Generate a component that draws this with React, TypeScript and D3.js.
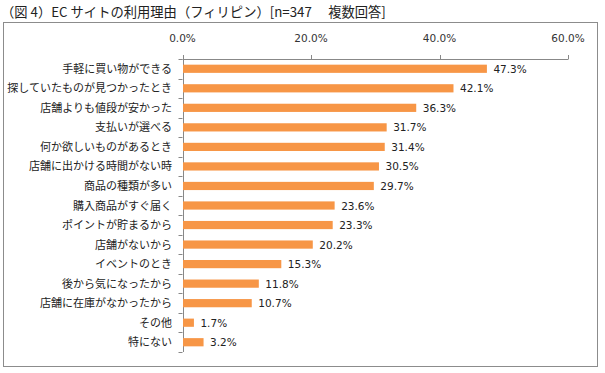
import React from "react";
import * as d3 from "d3";

const categories = [
  "手軽に買い物ができる",
  "探していたものが見つかったとき",
  "店舗よりも値段が安かった",
  "支払いが選べる",
  "何か欲しいものがあるとき",
  "店舗に出かける時間がない時",
  "商品の種類が多い",
  "購入商品がすぐ届く",
  "ポイントが貯まるから",
  "店舗がないから",
  "イベントのとき",
  "後から気になったから",
  "店舗に在庫がなかったから",
  "その他",
  "特にない",
];
const values = [47.3, 42.1, 36.3, 31.7, 31.4, 30.5, 29.7, 23.6, 23.3, 20.2, 15.3, 11.8, 10.7, 1.7, 3.2];
const ticks = [0, 20, 40, 60];
const title = "（図 4）EC サイトの利用理由（フィリピン）[n=347　 複数回答]";

const W = 605;
const H = 373;
const left = 182.5;
const right = 568;
const top = 59;
const bottom = 352;

const jp = "'Noto Sans CJK JP', 'Noto Sans', sans-serif";
const num = "'DejaVu Sans', Verdana, sans-serif";

export default function App() {
  const x = d3.scaleLinear().domain([0, 60]).range([left, right]);
  const y = d3.scaleBand().domain(categories).range([top, bottom]).paddingInner(0.58).paddingOuter(0.29);
  const band = (bottom - top) / categories.length;
  return (
    <svg width={W} height={H} style={{ position: "absolute", left: 0, top: 0, background: "#fff" }}>
      <text x={1} y={17} fontFamily={jp} fontSize={13.3} fill="#222">{title}</text>
      <rect x={3.5} y={22.5} width={594} height={344} fill="none" stroke="#8c8c8c" strokeWidth={1} />
      {ticks.map((t) => (
        <g key={t}>
          <text x={x(t)} y={42} textAnchor="middle" fontFamily={num} fontSize={10.5} fill="#333">{t.toFixed(1)}%</text>
          <line x1={Math.round(x(t)) + 0.5} x2={Math.round(x(t)) + 0.5} y1={top - 4} y2={top} stroke="#888" />
        </g>
      ))}
      <line x1={left} x2={right + 0.5} y1={top + 0.5} y2={top + 0.5} stroke="#888" />
      <line x1={Math.round(left) + 0.5} x2={Math.round(left) + 0.5} y1={top} y2={bottom} stroke="#888" />
      {d3.range(categories.length + 1).map((i) => (
        <line key={i} x1={left - 4} x2={left} y1={Math.round(top + i * band) + 0.5} y2={Math.round(top + i * band) + 0.5} stroke="#888" />
      ))}
      {categories.map((c, i) => (
        <g key={c}>
          <rect x={x(0) + 0.5} y={y(c)!} width={x(values[i]) - x(0)} height={y.bandwidth()} fill="#F79646" />
          <text x={172} y={y(c)! + y.bandwidth() / 2 + 4} textAnchor="end" fontFamily={jp} fontSize={11} fill="#222">{c}</text>
          <text x={x(values[i]) + 7} y={y(c)! + y.bandwidth() / 2 + 4} fontFamily={num} fontSize={10.5} fill="#222">{values[i].toFixed(1)}%</text>
        </g>
      ))}
    </svg>
  );
}
